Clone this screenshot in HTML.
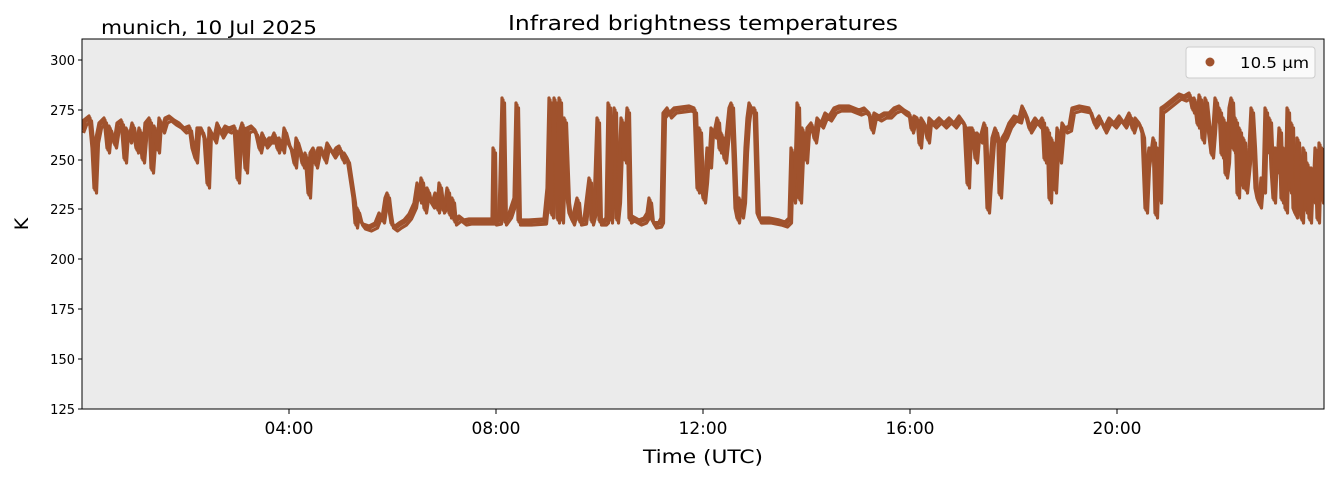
<!DOCTYPE html>
<html><head><meta charset="utf-8"><style>
body{margin:0;background:#fff;}
svg text{font-family:"DejaVu Sans","Liberation Sans",sans-serif;fill:#000;}
</style></head><body>
<svg width="1335" height="478" xmlns="http://www.w3.org/2000/svg">
<defs>
<path id="s" fill="none" stroke="#a0522d" stroke-width="3.2" stroke-linejoin="round" d="M82,130 L85,122 L90,118 L93,150 L95,190 L97,140 L100,125 L105,120 L108,150 L110,128 L115,145 L118,125 L122,122 L125,160 L127,130 L130,140 L133,125 L137,150 L140,130 L143,160 L146,125 L150,120 L152,170 L155,128 L158,150 L160,120 L163,130 L166,120 L170,118 L175,122 L180,125 L185,130 L190,128 L193,150 L196,160 L198,130 L202,130 L205,140 L208,185 L210,130 L215,140 L218,125 L222,135 L226,128 L230,130 L235,128 L238,180 L240,135 L243,125 L246,170 L248,130 L252,128 L256,132 L260,150 L263,135 L266,145 L270,140 L273,140 L275,135 L278,150 L280,140 L283,150 L285,130 L289,145 L292,150 L295,165 L297,140 L300,150 L303,165 L306,155 L309,195 L311,155 L314,150 L316,165 L319,150 L322,150 L325,160 L328,145 L331,150 L334,155 L337,150 L340,148 L343,160 L345,155 L348,160 L351,180 L354,200 L356,225 L358,210 L361,222 L364,226 L370,228 L376,225 L380,215 L383,220 L386,200 L388,195 L390,212 L392,225 L396,228 L400,225 L405,222 L410,216 L415,205 L418,185 L420,200 L422,180 L425,210 L428,190 L430,200 L433,205 L436,195 L438,210 L440,185 L443,210 L446,205 L448,190 L450,215 L453,200 L455,222 L460,218 L465,222 L470,221 L480,221 L490,221 L493,221 L494,150 L495,222 L500,221 L503,100 L505,222 L510,215 L515,200 L517,105 L519,222 L530,222 L545,221 L548,190 L550,100 L552,215 L555,100 L558,220 L560,100 L562,220 L565,120 L568,200 L570,215 L573,222 L578,200 L580,222 L585,221 L590,180 L592,222 L595,210 L598,120 L600,222 L605,222 L607,220 L609,105 L611,220 L613,150 L615,110 L617,220 L619,200 L622,120 L625,160 L628,110 L630,220 L633,218 L640,222 L645,220 L648,215 L650,200 L652,220 L655,225 L660,224 L662,220 L664,115 L668,110 L670,115 L675,110 L690,108 L695,110 L698,190 L700,130 L702,185 L704,200 L706,180 L708,150 L710,165 L712,130 L715,135 L718,120 L720,150 L722,135 L725,160 L728,130 L730,110 L732,105 L734,155 L736,210 L738,220 L740,200 L742,215 L744,200 L746,150 L748,120 L750,105 L752,110 L755,110 L758,215 L760,220 L770,220 L780,222 L786,224 L790,220 L792,150 L794,200 L796,175 L798,105 L800,200 L803,130 L806,160 L808,130 L812,125 L815,140 L818,120 L822,125 L826,115 L830,118 L835,110 L840,108 L850,108 L860,112 L865,110 L870,115 L872,130 L875,115 L880,118 L885,115 L890,115 L895,110 L900,108 L905,112 L910,115 L912,130 L915,118 L918,120 L920,145 L922,120 L925,125 L928,140 L930,120 L935,125 L940,120 L945,125 L950,120 L955,125 L960,118 L965,125 L968,185 L970,130 L973,130 L976,160 L978,135 L981,140 L985,125 L988,210 L990,180 L993,140 L996,130 L999,145 L1000,195 L1003,140 L1006,135 L1010,125 L1015,118 L1020,120 L1023,108 L1026,115 L1030,130 L1033,125 L1036,120 L1040,125 L1043,120 L1045,160 L1048,130 L1050,200 L1052,140 L1055,190 L1058,130 L1060,160 L1063,125 L1066,130 L1070,128 L1073,110 L1080,108 L1090,110 L1095,125 L1100,118 L1105,130 L1110,120 L1115,125 L1120,118 L1125,125 L1130,115 L1133,130 L1136,120 L1140,125 L1143,135 L1146,210 L1148,165 L1150,150 L1152,155 L1154,140 L1156,215 L1158,150 L1160,200 L1162,110 L1165,108 L1170,104 L1175,100 L1180,96 L1185,98 L1190,95 L1193,110 L1195,100 L1198,125 L1200,97 L1203,140 L1206,100 L1209,130 L1212,155 L1214,130 L1216,100 L1218,120 L1220,110 L1222,155 L1224,120 L1226,175 L1228,160 L1230,110 L1232,100 L1234,150 L1236,120 L1238,195 L1240,130 L1242,185 L1244,140 L1246,190 L1248,170 L1250,150 L1252,110 L1254,145 L1256,190 L1258,200 L1260,205 L1262,180 L1264,190 L1266,110 L1268,150 L1270,120 L1272,170 L1274,200 L1276,150 L1278,170 L1280,130 L1282,200 L1284,150 L1286,210 L1288,110 L1290,190 L1292,125 L1294,210 L1296,215 L1298,140 L1300,205 L1302,220 L1304,150 L1306,210 L1308,165 L1310,220 L1312,170 L1314,200 L1316,150 L1318,220 L1320,145 L1322,200 L1324,150"/>
<clipPath id="c"><rect x="82" y="39" width="1242" height="370"/></clipPath>
</defs>
<rect x="82" y="39" width="1242" height="370" fill="#ebebeb"/>
<g clip-path="url(#c)">
<use href="#s"/>
<use href="#s" transform="translate(1.5,3)"/>
<use href="#s" transform="translate(-1,-2)"/>
</g>
<rect x="82" y="39" width="1242" height="370" fill="none" stroke="#000" stroke-width="1"/>
<g stroke="#000" stroke-width="1">
<line x1="78" y1="409" x2="82" y2="409"/><line x1="78" y1="359" x2="82" y2="359"/><line x1="78" y1="309" x2="82" y2="309"/><line x1="78" y1="259" x2="82" y2="259"/><line x1="78" y1="209" x2="82" y2="209"/><line x1="78" y1="160" x2="82" y2="160"/><line x1="78" y1="110" x2="82" y2="110"/><line x1="78" y1="60" x2="82" y2="60"/>
<line x1="289" y1="409" x2="289" y2="414"/><line x1="496" y1="409" x2="496" y2="414"/><line x1="703" y1="409" x2="703" y2="414"/><line x1="910" y1="409" x2="910" y2="414"/><line x1="1117" y1="409" x2="1117" y2="414"/>
</g>
<g font-size="13" text-anchor="end">
<text x="75" y="414">125</text><text x="75" y="364">150</text><text x="75" y="314">175</text><text x="75" y="264">200</text><text x="75" y="214">225</text><text x="75" y="165">250</text><text x="75" y="115">275</text><text x="75" y="65">300</text>
</g>
<g font-size="17" text-anchor="middle">
<text x="289" y="434">04:00</text><text x="496" y="434">08:00</text><text x="703" y="434">12:00</text><text x="910" y="434">16:00</text><text x="1117" y="434">20:00</text>
</g>
<text x="643" y="463" font-size="19" textLength="120" lengthAdjust="spacingAndGlyphs">Time (UTC)</text>
<text x="508" y="30" font-size="20" textLength="390" lengthAdjust="spacingAndGlyphs">Infrared brightness temperatures</text>
<text x="101" y="34" font-size="19" textLength="216" lengthAdjust="spacingAndGlyphs">munich, 10 Jul 2025</text>
<text x="28" y="224" font-size="19" text-anchor="middle" transform="rotate(-90 28 224)">K</text>
<rect x="1186" y="47" width="129" height="31" rx="3" fill="#fafafa" stroke="#ccc"/>
<circle cx="1210" cy="62" r="4.5" fill="#a0522d"/>
<text x="1240" y="68" font-size="15" textLength="69" lengthAdjust="spacingAndGlyphs">10.5 µm</text>
</svg>
</body></html>
